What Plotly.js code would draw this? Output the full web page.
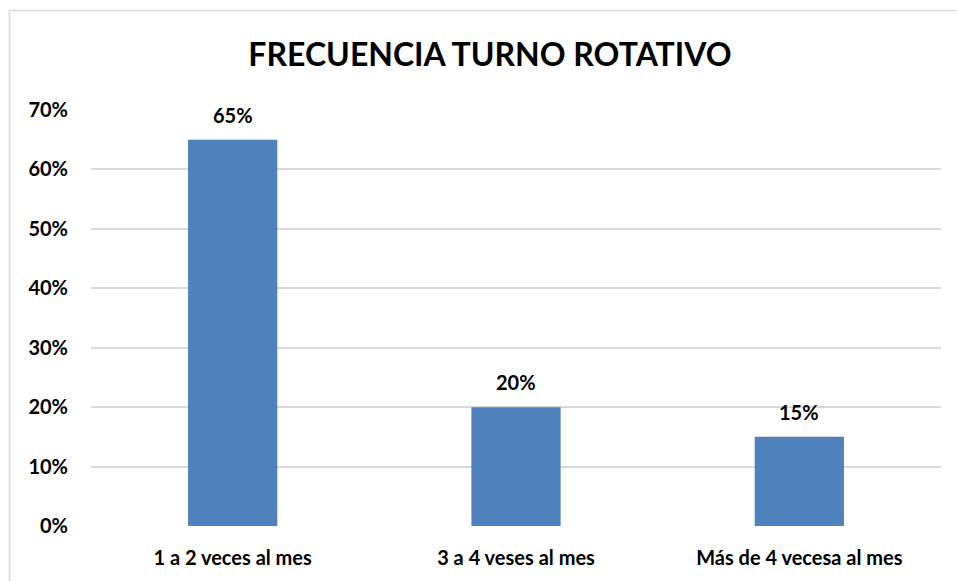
<!DOCTYPE html>
<html>
<head>
<meta charset="utf-8">
<script src="https://cdn.plot.ly/plotly-3.0.1.min.js"></script>
<style>
  body { margin: 0; background: #fff; }
  #chart { width: 957px; height: 581px; }
</style>
</head>
<body>
<div id="chart"></div>
<script>
const categories = ['1 a 2 veces al mes', '3 a 4 veses al mes', 'Más de 4 vecesa al mes'];
const values = [0.65, 0.20, 0.15];
const labels = ['65%', '20%', '15%'];

const font = 'Lato, "Open Sans", sans-serif';

// value labels above the bars
const valueLabels = categories.map((c, i) => ({
    x: c,
    y: values[i],
    text: '<b>' + labels[i] + '</b>',
    showarrow: false,
    yanchor: 'middle',
    yshift: 25,
    font: { family: font, size: 20, color: '#000' }
}));

const layout = {
    width: 957,
    height: 581,
    paper_bgcolor: '#ffffff',
    plot_bgcolor: '#ffffff',
    margin: { t: 110, r: 16, b: 55, l: 91 },
    showlegend: false,
    bargap: 0.685,
    title: {
        text: '<b>FRECUENCIA TURNO ROTATIVO</b>',
        font: { family: font, size: 32, color: '#000' },
        x: 490 / 957,
        xref: 'container',
        xanchor: 'center',
        y: 1 - 55 / 581,
        yref: 'container',
        yanchor: 'middle'
    },
    xaxis: {
        showgrid: false,
        showline: false,
        zeroline: false,
        ticks: 'outside',
        ticklen: 14,
        tickcolor: 'rgba(0,0,0,0)',
        tickvals: categories,
        ticktext: categories.map(c => '<b>' + c + '</b>'),
        tickfont: { family: font, size: 20, color: '#000' }
    },
    yaxis: {
        range: [0, 0.70],
        tickvals: [0, 0.1, 0.2, 0.3, 0.4, 0.5, 0.6, 0.7],
        tickformat: '.0%',
        gridcolor: '#d9d9d9',
        gridwidth: 1.5,
        zeroline: false,
        showline: false,
        ticks: 'outside',
        ticklen: 18,
        tickcolor: 'rgba(0,0,0,0)',
        tickfont: { family: font, size: 20, color: '#000', weight: 'bold' }
    },
    annotations: valueLabels,
    shapes: [{
        type: 'rect',
        xref: 'paper', yref: 'paper',
        x0: -81.5 / 850, x1: 900 / 850,
        y0: -0.3, y1: 1 + 99.5 / 416,
        line: { color: '#d9d9d9', width: 1.5 },
        fillcolor: 'rgba(0,0,0,0)',
        layer: 'below'
    }]
};

Plotly.newPlot('chart', [{
    x: categories,
    y: values,
    type: 'bar',
    marker: { color: '#4F81BD', line: { width: 0 } },
    hoverinfo: 'none'
}], layout, { displayModeBar: false });
</script>
</body>
</html>
